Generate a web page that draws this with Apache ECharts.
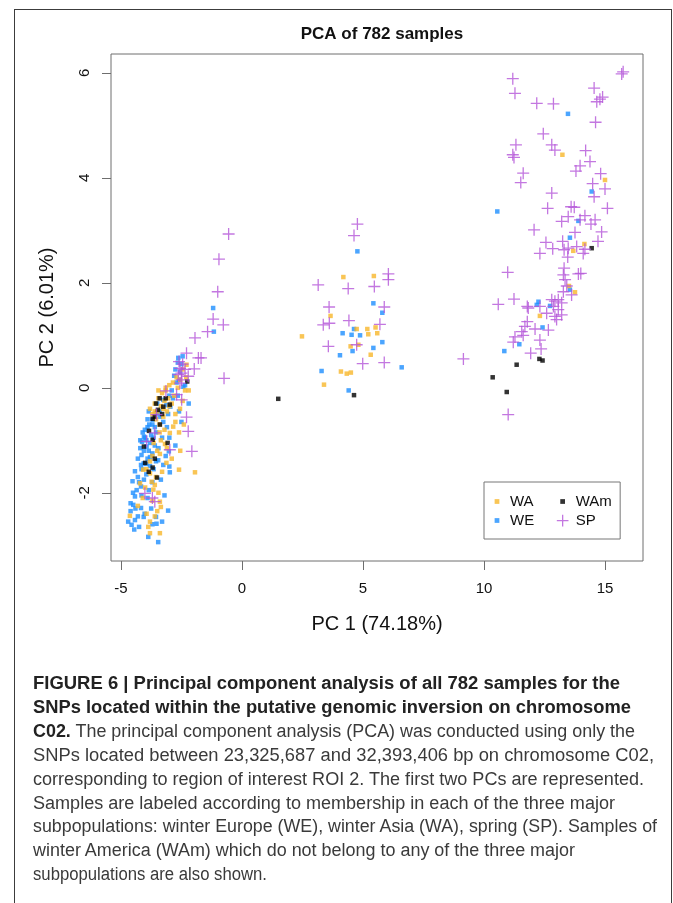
<!DOCTYPE html>
<html>
<head>
<meta charset="utf-8">
<script src="https://cdn.jsdelivr.net/npm/echarts@6/dist/echarts.min.js"></script>
<style>
  body { margin: 0; background: #fff; }
  #frame { position: absolute; left: 14px; top: 9px; width: 656px; height: 1000px; border: 1.5px solid #3c3c3c; border-bottom: none; }
  #container { position: absolute; left: 0; top: 0; width: 673px; height: 903px; }
  .ln { position: absolute; left: 33px; white-space: nowrap; font-family: "Liberation Sans", Arial, sans-serif; font-size: 18px; color: #3a3a3a; transform-origin: 0 50%; line-height: 20px; }
  .ln b, .b { font-weight: bold; color: #222; }
</style>
</head>
<body>
<div id="frame"></div>
<div id="container"></div>
<div id="caption">
  <div class="ln b" data-w="587">FIGURE 6 | Principal component analysis of all 782 samples for the</div>
  <div class="ln b" data-w="598">SNPs located within the putative genomic inversion on chromosome</div>
  <div class="ln" data-w="602"><b>C02.</b> The principal component analysis (PCA) was conducted using only the</div>
  <div class="ln" data-w="621">SNPs located between 23,325,687 and 32,393,406 bp on chromosome C02,</div>
  <div class="ln" data-w="611">corresponding to region of interest ROI 2. The first two PCs are represented.</div>
  <div class="ln" data-w="582">Samples are labeled according to membership in each of the three major</div>
  <div class="ln" data-w="624">subpopulations: winter Europe (WE), winter Asia (WA), spring (SP). Samples of</div>
  <div class="ln" data-w="542">winter America (WAm) which do not belong to any of the three major</div>
  <div class="ln" data-w="234">subpopulations are also shown.</div>
</div>
<script>
// PC1 / PC2 coordinates
let xTicks = [-5, 0, 5, 10, 15];
let yTicks = [-2, 0, 2, 4, 6];

let WE = [
  [-1.19,1.52],[-1.16,1.07],[-2.63,0.57],[-2.80,0.23],[-2.7,0.1],[-2.42,0.02],[-3.25,-0.23],[-3.12,-0.33],
  [-2.96,-0.36],[-3.53,-0.48],[-3.69,-0.61],[-3.83,-0.70],[-4.01,-0.80],[-4.05,-0.93],[-4.13,-1.03],[-3.94,-1.12],
  [-4.15,-1.28],[-3.80,-1.32],[-3.46,-1.38],[-3.25,-1.47],[-2.98,-1.61],[-3.02,-1.21],[-4.17,-1.47],[-4.42,-1.59],
  [-4.06,-1.44],[-3.80,-1.49],[-4.52,-1.78],[-4.17,-1.88],[-4.42,-2.07],[-4.49,-2.23],[-4.17,-2.29],[-4.02,-2.40],
  [-4.06,-2.46],[-4.56,-2.61],[-4.42,-2.52],[-3.55,-2.46],[-3.87,-2.84],[-3.46,-2.94],[-3.05,-2.34],[-3.53,-2.59],
  [-2.5,0.45],[-2.75,0.35],[-2.55,0.3],[-2.9,-0.05],[-2.65,-0.15],[-3.4,-0.55],[-3.6,-0.75],[-3.9,-0.6],
  [-3.75,-0.9],[-3.95,-1.0],[-4.1,-0.85],[-3.85,-1.2],[-3.6,-1.1],[-3.3,-0.95],[-3.1,-0.75],[-4.2,-1.15],
  [-4.3,-1.35],[-3.95,-1.65],[-3.7,-1.8],[-4.35,-1.95],[-4.6,-2.35],[-4.7,-2.55],[-3.75,-2.3],[-3.9,-2.1],
  [-2.35,0.05],[-2.6,-0.45],[-2.5,-0.65],[-3.0,-0.95],[-2.75,-1.1],[-3.35,-1.75],[-3.2,-2.05],[-4.3,-1.7],
  [-3.65,-1.55],[-4.45,-2.7],[-4.25,-2.65],
  [-3.85,-0.45],[-3.7,-0.7],[-3.55,-0.85],[-3.9,-0.75],[-4.0,-0.95],[-3.8,-1.05],[-3.65,-0.95],[-4.05,-1.2],
  [-3.9,-1.35],[-3.7,-1.25],[-3.45,-1.15],[-3.55,-1.4],[-4.15,-1.55],[-3.95,-1.45],[-4.25,-1.8],[-4.05,-1.75],
  [-3.85,-1.95],[-4.4,-2.3],[-4.3,-2.45],[-4.15,-2.05],[-3.4,-0.45],[-3.25,-0.65],[-3.05,-0.5],[-2.85,-0.2],
  [-2.6,0.15],[-2.45,0.6],[-2.65,0.48],[-3.0,-0.15],[-3.5,-0.3],[-4.2,-1.0],[-2.2,-0.3],[-3.15,-1.3],
  [-3.0,-1.5],[-4.5,-2.0],[-4.6,-2.2],[-3.7,-2.6],[-3.3,-2.55],
  [4.77,2.60],[5.43,1.61],[5.80,1.43],[4.63,1.12],[4.16,1.04],[4.53,1.01],[4.88,1.00],[5.80,0.87],
  [5.43,0.76],[4.57,0.70],[4.05,0.62],[6.60,0.39],[3.29,0.32],[4.41,-0.05],
  [13.47,5.22],[10.55,3.36],[14.45,3.74],[13.90,3.18],[13.55,2.86],[12.25,1.64],[12.18,1.58],[12.73,1.56],
  [13.55,1.87],[12.42,1.15],[11.46,0.83],[10.84,0.70]
];

let WA = [
  [-2.29,0.44],[-2.35,-0.05],[-2.84,-0.74],[-2.56,-0.40],[-2.98,-0.86],[-3.18,-1.07],[-3.39,-1.26],[-3.12,-1.43],
  [-2.60,-1.56],[-1.94,-1.61],[-3.80,-1.63],[-3.73,-1.79],[-3.66,-1.94],[-4.21,-1.82],[-4.08,-1.56],[-3.39,-2.17],
  [-4.63,-2.44],[-3.94,-2.40],[-3.87,-2.65],[-3.39,-2.77],[-3.80,-2.77],[-3.35,-2.27],
  [-3.6,-0.3],[-3.45,-0.2],[-3.3,-0.1],[-3.15,-0.05],[-3.0,0.05],[-3.5,-0.45],[-3.35,-0.35],[-3.2,-0.25],
  [-3.05,-0.2],[-2.9,-0.3],[-3.7,-0.5],[-3.55,-0.6],[-3.25,-0.55],[-3.1,-0.45],[-2.75,-0.5],[-3.8,-0.4],
  [-3.4,-0.7],[-3.2,-0.8],[-2.85,0.1],[-2.7,0.2],[-2.55,0.15],[-2.45,0.35],[-3.65,-1.05],[-3.5,-1.2],
  [-3.8,-1.4],[-3.3,-1.6],[-3.55,-1.7],[-3.45,-2.0],[-4.0,-1.9],[-3.7,-2.15],[-4.3,-2.25],[-3.6,-2.45],
  [-2.9,-1.35],[-2.6,-0.85],[-2.3,0.2],[-2.45,-0.25],
  [-3.4,-0.85],[-3.6,-0.45],[-3.25,-0.4],[-3.0,-0.35],[-2.8,-0.15],[-2.65,0.0],[-3.45,-0.05],[-3.15,0.0],
  [-3.35,-1.0],[-3.1,-1.15],[-3.7,-1.3],[-3.95,-1.55],[-3.6,-1.85],[-4.1,-2.1],[-3.5,-2.35],[-3.8,-2.55],
  [-2.4,-0.7],[-2.55,-1.2],[-2.2,-0.05],[-2.75,-0.65],
  [4.19,2.11],[5.45,2.13],[3.66,1.37],[2.48,0.98],[4.74,1.12],[5.18,1.12],[5.52,1.15],[5.22,1.02],
  [5.59,1.04],[4.49,0.79],[4.81,0.82],[5.32,0.63],[4.09,0.31],[4.33,0.27],[4.50,0.29],[3.39,0.06],
  [13.24,4.44],[15.0,3.96],[14.15,2.74],[13.69,2.61],[13.51,1.94],[13.76,1.82],[12.31,1.37]
];

let WAm = [
  [-2.26,0.12],[-2.98,-0.32],[-3.25,-0.36],[-3.47,-0.42],[-3.69,-0.59],[-3.39,-0.70],[-3.84,-0.82],[-3.69,-0.99],
  [-3.07,-1.05],[-4.0,-1.43],[-3.69,-1.52],[-3.51,-1.71],[-4.05,-1.12],[-3.3,-0.5],[-3.55,-0.3],[-3.15,-0.2],
  [-3.4,-0.2],[-3.6,-0.55],[-3.85,-1.6],[-3.6,-1.35],
  [1.50,-0.21],[4.63,-0.14],
  [14.45,2.66],[12.29,0.55],[12.42,0.52],[11.35,0.44],[10.36,0.20],[10.94,-0.08]
];

let SP = [
  [-0.55,2.93],[-0.95,2.45],[-1.0,1.83],[-1.19,1.31],[-0.77,1.20],[-1.42,1.07],[-1.94,0.95],[-2.29,0.66],
  [-1.80,0.57],[-1.69,0.57],[-1.97,0.36],[-0.74,0.18],[-2.56,0.37],[-2.63,0.25],[-2.49,0.15],[-2.22,0.22],
  [-2.56,0.09],[-3.14,-0.06],[-2.70,-0.13],[-2.49,-0.23],[-2.29,-0.56],[-2.22,-0.83],[-2.07,-1.21],[-2.98,-1.18],
  [-3.53,-0.51],[-3.60,-0.86],[-3.94,-1.02],[-4.01,-2.01],[-3.60,-2.17],[-3.7,-2.1],[-2.45,0.45],[-2.6,0.5],
  [-2.35,0.35],[-2.5,0.28],
  [4.77,3.12],[4.63,2.90],[6.05,2.17],[6.05,2.06],[3.15,1.96],[4.39,1.89],[5.47,1.93],[3.60,1.54],
  [5.88,1.54],[4.42,1.28],[3.36,1.20],[3.61,1.23],[5.70,1.21],[4.74,0.82],[3.57,0.79],[4.99,0.46],[5.88,0.48],
  [11.19,5.89],[11.28,5.61],[12.18,5.42],[12.87,5.41],[15.69,5.98],[15.75,6.02],[14.55,5.71],[14.66,5.45],
  [14.79,5.50],[14.90,5.54],[14.61,5.06],[12.45,4.84],[11.32,4.63],[11.19,4.44],[11.24,4.39],[12.80,4.63],
  [12.93,4.53],[14.20,4.52],[14.38,4.31],[13.97,4.23],[13.80,4.13],[11.62,4.09],[11.52,3.91],[14.82,4.08],
  [14.49,3.89],[15.0,3.79],[14.55,3.64],[12.80,3.71],[12.63,3.42],[13.60,3.45],[13.73,3.44],[13.48,3.26],
  [15.10,3.42],[13.21,3.17],[14.17,3.28],[13.97,3.20],[14.59,3.20],[14.42,3.12],[12.07,3.01],[13.76,2.96],
  [14.86,2.97],[12.56,2.77],[12.84,2.65],[13.25,2.79],[13.48,2.66],[13.83,2.69],[14.17,2.64],[14.71,2.79],
  [12.31,2.56],[13.31,2.63],[14.10,2.56],[13.46,2.49],
  [13.31,2.28],[10.98,2.20],[13.90,2.17],[14.0,2.18],[13.28,2.15],[13.35,2.06],[13.42,1.94],[13.62,1.77],
  [13.28,1.83],[10.59,1.59],[11.24,1.69],[11.79,1.55],[11.83,1.52],[12.31,1.55],[12.80,1.68],[12.93,1.65],
  [13.07,1.68],[13.21,1.62],[12.87,1.55],[13.07,1.49],[12.59,1.42],[12.93,1.36],[13.21,1.39],[13.0,1.30],
  [11.79,1.26],[11.69,1.17],[12.11,1.12],[11.56,1.07],[12.66,1.10],[11.62,1.0],[11.28,0.97],[11.21,0.87],
  [12.31,0.91],[11.93,0.66],[12.36,0.74],[9.15,0.55],[11.0,-0.51]
];

let colors = { WA: '#f8b62a', WE: '#1e8fff', WAm: '#000000', SP: '#b455d8' };
let plusPath = 'path://M0,5H10M5,0V10';
let sqIcon = 'path://M0,0M10,10M3.3,3.3H6.7V6.7H3.3Z';
let plusIcon = 'path://M0,0M12,12M1,6H11M6,1V11';
let font = '"Liberation Sans", Arial, sans-serif';

function squares(name, data) {
  return {
    name: name, type: 'scatter', data: data,
    symbol: 'rect', symbolSize: 4.5,
    itemStyle: { color: colors[name] },
    silent: true
  };
}

let option = {
  animation: false,
  textStyle: { fontFamily: font },
  title: {
    text: 'PCA of 782 samples',
    left: 377, top: 21, textAlign: 'center',
    textStyle: { fontSize: 17, fontWeight: 'bold', color: '#111', fontFamily: font }
  },
  grid: {
    left: 111, top: 54, width: 532, height: 507,
    show: true, borderColor: '#6e6e6e', borderWidth: 1
  },
  legend: [
    {
      orient: 'vertical', left: 484, top: 482,
      padding: [12, 86, 11, 6],
      borderColor: '#777', borderWidth: 1,
      itemWidth: 16, itemHeight: 14, itemGap: 4,
      selectedMode: false,
      textStyle: { fontSize: 15, color: '#111', fontFamily: font },
      data: [
        { name: 'WA', icon: sqIcon },
        { name: 'WE', icon: sqIcon }
      ]
    },
    {
      orient: 'vertical', left: 555, top: 494,
      padding: 0,
      itemWidth: 16, itemHeight: 14, itemGap: 4,
      selectedMode: false,
      textStyle: { fontSize: 15, color: '#111', fontFamily: font },
      data: [
        { name: 'WAm', icon: sqIcon },
        { name: 'SP', icon: plusIcon, itemStyle: { borderColor: colors.SP, borderWidth: 1.3 } }
      ]
    }
  ],
  xAxis: {
    type: 'value', min: -5.41, max: 16.57,
    name: 'PC 1 (74.18%)', nameLocation: 'middle', nameGap: 53,
    nameTextStyle: { fontSize: 20, color: '#111', fontFamily: font },
    axisLine: { show: false, onZero: false },
    splitLine: { show: false },
    axisTick: { show: true, inside: false, length: 9, customValues: xTicks, lineStyle: { color: '#6e6e6e' } },
    axisLabel: { margin: 20, fontSize: 15, color: '#111', customValues: xTicks, fontFamily: font }
  },
  yAxis: {
    type: 'value', min: -3.30, max: 6.36,
    name: 'PC 2 (6.01%)', nameLocation: 'middle', nameGap: 54,
    nameTextStyle: { fontSize: 20, color: '#111', fontFamily: font },
    axisLine: { show: false, onZero: false },
    splitLine: { show: false },
    axisTick: { show: true, inside: false, length: 9, customValues: yTicks, lineStyle: { color: '#6e6e6e' } },
    axisLabel: { margin: 19, rotate: 90, fontSize: 15, color: '#111', customValues: yTicks, fontFamily: font }
  },
  series: [
    squares('WE', WE),
    squares('WA', WA),
    squares('WAm', WAm),
    {
      name: 'SP', type: 'scatter', data: SP,
      symbol: plusPath, symbolSize: 12,
      itemStyle: { color: colors.SP, borderColor: colors.SP, borderWidth: 1.3 },
      silent: true
    }
  ]
};

let myChart = echarts.init(document.getElementById('container'));
myChart.setOption(option);

// caption lines: fixed baseline grid, squeezed to the widths in the figure
let capTop = 673, capStep = 23.9;
document.querySelectorAll('.ln').forEach(function (el, i) {
  el.style.top = (capTop + i * capStep) + 'px';
  let w = el.getBoundingClientRect().width;
  el.style.transform = 'scaleX(' + (el.dataset.w / w) + ')';
});
</script>
</body>
</html>
